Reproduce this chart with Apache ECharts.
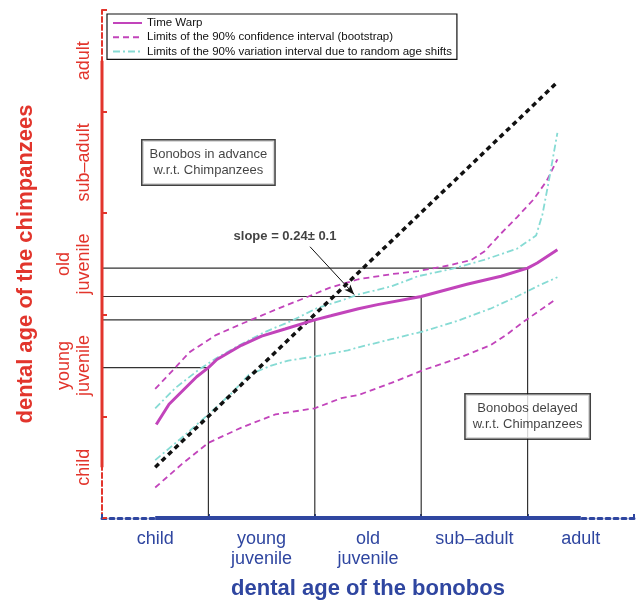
<!DOCTYPE html>
<html><head><meta charset="utf-8">
<script src="https://cdn.jsdelivr.net/npm/echarts@6/dist/echarts.min.js"></script>
<style>html,body{margin:0;padding:0;background:#fff}#c{width:637px;height:605px}</style>
</head><body><div id="c"></div>
<script>
// ---- data ----
const xStageNames = ['child', 'young\njuvenile', 'old\njuvenile', 'sub\u2013adult', 'adult'];
const yStageNames = ['child', 'young\njuvenile', 'old\njuvenile', 'sub\u2013adult', 'adult'];
const stageBoundaries = [1, 2, 3, 4];

const timeWarp = [[0.51,0.92],[0.63,1.12],[0.89,1.39],[1.0,1.48],[1.08,1.56],[1.31,1.70],[1.50,1.79],[1.72,1.86],[2.0,1.95],[2.15,1.99],[2.41,2.06],[2.59,2.10],[3.0,2.18],[3.43,2.30],[3.75,2.38],[4.0,2.46],[4.09,2.51],[4.28,2.64]];
const confUpper = [[0.5,1.27],[0.68,1.47],[0.82,1.63],[1.07,1.80],[1.31,1.91],[1.63,2.05],[1.94,2.18],[2.15,2.27],[2.41,2.35],[2.72,2.40],[2.97,2.43],[3.28,2.49],[3.47,2.54],[3.59,2.62],[3.75,2.80],[3.90,2.96],[4.06,3.14],[4.18,3.32],[4.28,3.53]];
const confLower = [[0.5,0.30],[0.75,0.53],[1.0,0.74],[1.31,0.89],[1.63,1.02],[2.0,1.08],[2.25,1.18],[2.41,1.21],[2.72,1.33],[3.03,1.46],[3.34,1.57],[3.65,1.70],[3.81,1.81],[3.96,1.93],[4.26,2.15]];
const varUpper = [[0.5,1.08],[0.69,1.28],[0.91,1.46],[1.07,1.57],[1.29,1.70],[1.53,1.83],[1.78,1.94],[2.03,2.07],[2.25,2.14],[2.41,2.20],[2.72,2.28],[2.97,2.38],[3.28,2.45],[3.59,2.54],[3.90,2.65],[4.08,2.78],[4.14,2.99],[4.20,3.32],[4.28,3.79]];
const varLower = [[0.5,0.57],[0.75,0.79],[1.0,1.02],[1.22,1.23],[1.38,1.41],[1.59,1.50],[1.75,1.55],[2.0,1.59],[2.31,1.65],[2.41,1.68],[2.72,1.76],[3.03,1.84],[3.34,1.94],[3.65,2.06],[3.90,2.18],[4.09,2.28],[4.28,2.37]];
const slopeLine = [[0.5,0.5],[4.28,4.29]];

const boxNotes = ['Bonobos in advance\nw.r.t. Chimpanzees', 'Bonobos delayed\nw.r.t. Chimpanzees'];
const boxAnchors = [[1.0,3.5],[4.0,1.0]];
const slopeText = 'slope = 0.24\u00b1 0.1';
const slopeAnchor = [1.72,2.77];
const slopeArrow = [[1.955,2.67],[2.37,2.2]];

const legendNames = ['Time Warp', 'Limits of the 90% confidence interval (bootstrap)', 'Limits of the 90% variation interval due to random age shifts'];

// ---- styles ----
const FONT = '"Liberation Sans", Arial, Helvetica, sans-serif';
const RED = '#e2352c';
const BLUE = '#2f46a0';
const MAG = '#c244bb';
const CYAN = '#86dbd4';

function halfLabel(names) {
  return function (v) {
    const r = Math.round(v * 2);
    if (r % 2 === 1) return names[(r - 1) / 2] || '';
    return '';
  };
}

function warpAt(x) {
  for (const p of timeWarp) if (Math.abs(p[0] - x) < 1e-9) return p[1];
  return null;
}

const series = [];
// connector lines
stageBoundaries.forEach(function (k) {
  const y = warpAt(k);
  series.push({
    type: 'line', silent: true, symbol: 'none', z: 1,
    data: [[0, y], [k, y], [k, 0]],
    lineStyle: { color: '#333', width: 1.2 }
  });
});
series.push({
  name: legendNames[1], type: 'line', symbol: 'none', z: 3,
  data: confUpper, lineStyle: { color: MAG, width: 1.8, type: [6, 4] }, itemStyle: { color: MAG }
});
series.push({
  name: legendNames[1], type: 'line', symbol: 'none', z: 3,
  data: confLower, lineStyle: { color: MAG, width: 1.8, type: [6, 4] }, itemStyle: { color: MAG }
});
series.push({
  name: legendNames[2], type: 'line', symbol: 'none', z: 3,
  data: varUpper, lineStyle: { color: CYAN, width: 1.8, type: [7, 3, 2, 3] }, itemStyle: { color: CYAN }
});
series.push({
  name: legendNames[2], type: 'line', symbol: 'none', z: 3,
  data: varLower, lineStyle: { color: CYAN, width: 1.8, type: [7, 3, 2, 3] }, itemStyle: { color: CYAN }
});
series.push({
  name: 'slope', type: 'line', symbol: 'none', z: 4, silent: true,
  data: slopeLine, lineStyle: { color: '#111', width: 3.5, type: [5, 4] }
});
series.push({
  name: legendNames[0], type: 'line', symbol: 'none', z: 5,
  data: timeWarp, lineStyle: { color: MAG, width: 3 }, itemStyle: { color: MAG }
});
// thick solid parts of the axes
series.push({
  type: 'line', symbol: 'none', silent: true, clip: false, z: 6,
  data: [[0.5, 0], [4.5, 0]], lineStyle: { color: BLUE, width: 4 }
});
series.push({
  type: 'line', symbol: 'none', silent: true, clip: false, z: 6,
  data: [[0, 0.5], [0, 4.5]], lineStyle: { color: RED, width: 3 }
});
// text boxes
series.push({
  type: 'scatter', symbolSize: 0, silent: true, z: 10,
  data: boxAnchors,
  label: {
    show: true, position: 'inside', align: 'center', verticalAlign: 'middle',
    formatter: function (p) { return boxNotes[p.dataIndex]; },
    fontFamily: FONT, fontSize: 13, lineHeight: 16, color: '#111',
    backgroundColor: '#fff', borderColor: '#111', borderWidth: 1.5, padding: [6, 7, 6, 7]
  }
});
// slope annotation with arrow
series.push({
  type: 'scatter', symbolSize: 0, silent: true, z: 10,
  data: [slopeAnchor],
  label: {
    show: true, position: 'inside', align: 'center', verticalAlign: 'middle',
    formatter: slopeText, fontFamily: FONT, fontSize: 13, fontWeight: 'bold', color: '#111'
  },
  markLine: {
    silent: true, symbol: ['none', 'arrow'], symbolSize: [6, 10], animation: false,
    label: { show: false },
    lineStyle: { color: '#111', width: 1, type: 'solid' },
    data: [[{ coord: slopeArrow[0] }, { coord: slopeArrow[1] }]]
  }
});

const option = {
  animation: false,
  backgroundColor: '#fff',
  textStyle: { fontFamily: FONT },
  grid: { left: 102, right: 0, top: 10, bottom: 80, containLabel: false },
  legend: {
    data: legendNames, orient: 'vertical', left: 107, top: 14,
    padding: [3, 5, 2, 5], itemGap: 2.2, itemWidth: 29, itemHeight: 12,
    itemStyle: { opacity: 0 },
    backgroundColor: '#fff', borderColor: '#111', borderWidth: 1.2, borderRadius: 0,
    textStyle: { fontFamily: FONT, fontSize: 11.5, color: '#111', lineHeight: 12 },
    selectedMode: false, z: 20
  },
  xAxis: [
    {
      type: 'value', min: 0, max: 5, interval: 1, position: 'bottom',
      axisLine: { show: true, lineStyle: { color: BLUE, width: 3, type: [4, 4] } },
      axisTick: { show: true, inside: true, length: 4, lineStyle: { color: BLUE, width: 2 } },
      axisLabel: { show: false }, splitLine: { show: false }
    },
    {
      type: 'value', min: 0, max: 5, interval: 0.5, position: 'bottom',
      axisLine: { show: false }, axisTick: { show: false }, splitLine: { show: false },
      axisLabel: {
        show: true, formatter: halfLabel(xStageNames), margin: 11,
        fontFamily: FONT, fontSize: 18, lineHeight: 20, color: BLUE, align: 'center'
      },
      name: 'dental age of the bonobos', nameLocation: 'middle', nameGap: 60,
      nameTextStyle: { fontFamily: FONT, fontSize: 22, fontWeight: 'bold', color: BLUE }
    }
  ],
  yAxis: [
    {
      type: 'value', min: 0, max: 5, interval: 1, position: 'left',
      axisLine: { show: true, lineStyle: { color: RED, width: 2, type: [5, 3] } },
      axisTick: { show: true, inside: true, length: 5, lineStyle: { color: RED, width: 2 } },
      axisLabel: { show: false }, splitLine: { show: false }
    },
    {
      type: 'value', min: 0, max: 5, interval: 0.5, position: 'left',
      axisLine: { show: false }, axisTick: { show: false }, splitLine: { show: false },
      axisLabel: {
        show: true, formatter: halfLabel(yStageNames), rotate: 90, margin: 8,
        fontFamily: FONT, fontSize: 18, lineHeight: 20, color: RED
      },
      name: 'dental age of the chimpanzees', nameLocation: 'middle', nameGap: 65, nameRotate: 90,
      nameTextStyle: { fontFamily: FONT, fontSize: 22, fontWeight: 'bold', color: RED }
    }
  ],
  series: series
};

const chart = echarts.init(document.getElementById('c'), null, { renderer: 'canvas' });
chart.setOption(option);
</script>
</body></html>
